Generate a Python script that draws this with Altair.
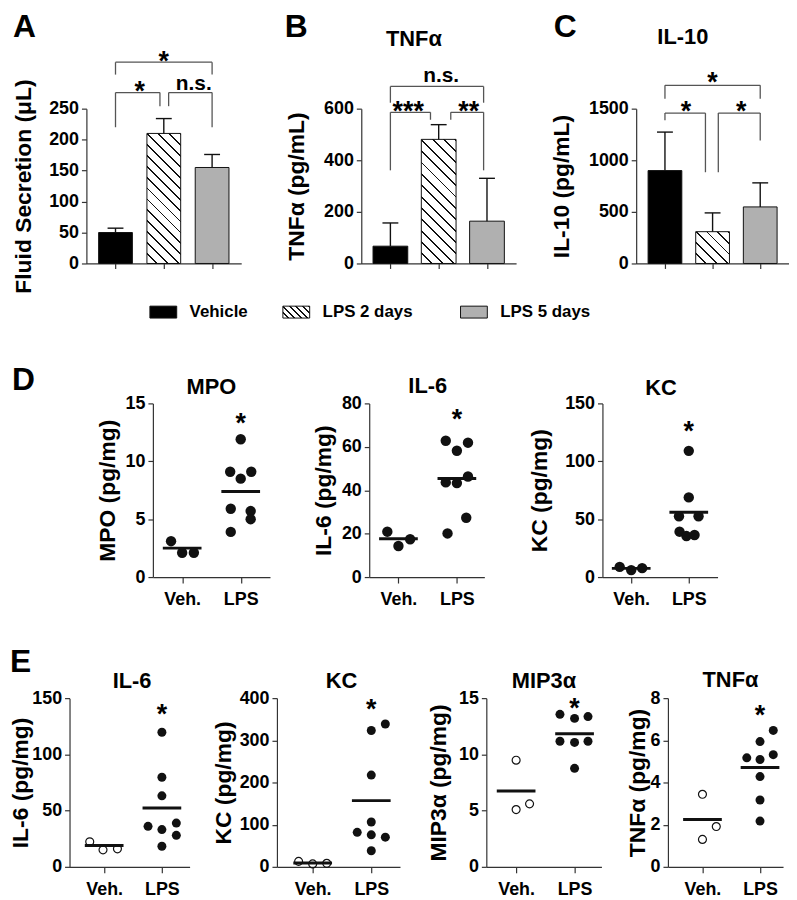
import math
import altair as alt
import pandas as pd

FONT = "Liberation Sans"
INK = "#111111"
GRAY = "#b0b0b0"
BRK = "#555555"
AXC = "#333333"

# ---------------- panels A-C: bar data ----------------
groups = ["Vehicle", "LPS 2 days", "LPS 5 days"]

fluid_mean = [50, 210, 155]
fluid_err = [7, 24, 21]
fluid_ticks = [0, 50, 100, 150, 200, 250]
fluid_br_x1 = [0.0, 0.0, 1.1]
fluid_br_x2 = [2.0, 0.92, 2.0]
fluid_br_y = [325, 276, 276]
fluid_br_yl = [305, 220, 254]
fluid_br_yr = [305, 254, 220]
fluid_note = ["*", "*", "n.s."]
fluid_note_x = [1.0, 0.5, 1.62]
fluid_note_y = [313, 264, 280]

tnfa_mean = [67, 481, 164]
tnfa_err = [90, 57, 166]
tnfa_ticks = [0, 200, 400, 600]
tnfa_br_x1 = [0.0, 0.0, 1.25]
tnfa_br_x2 = [1.93, 0.83, 1.93]
tnfa_br_y = [686, 586, 586]
tnfa_br_yl = [623, 361, 557]
tnfa_br_yr = [623, 557, 361]
tnfa_note = ["n.s.", "***", "**"]
tnfa_note_x = [1.05, 0.37, 1.62]
tnfa_note_y = [703, 557, 557]

il10_mean = [900, 308, 548]
il10_err = [373, 182, 233]
il10_ticks = [0, 500, 1000, 1500]
il10_br_x1 = [0.0, 0.0, 1.12]
il10_br_x2 = [2.0, 0.85, 2.0]
il10_br_y = [1726, 1457, 1457]
il10_br_yl = [1597, 1387, 884]
il10_br_yr = [1597, 884, 1192]
il10_note = ["*", "*", "*"]
il10_note_x = [1.0, 0.44, 1.6]
il10_note_y = [1671, 1393, 1393]

# ---------------- panels D-E: dot data ----------------
dot_groups = ["Veh.", "LPS"]

mpo_veh = [3.1, 2.1, 2.1]
mpo_veh_off = [-0.19, 0.0, 0.2]
mpo_lps = [11.9, 9.1, 8.5, 9.1, 5.9, 5.7, 5.0, 3.9]
mpo_lps_off = [0.0, -0.18, 0.0, 0.18, -0.17, 0.17, 0.17, -0.17]
mpo_mean = [2.5, 7.4]
mpo_star = 12.5

il6d_veh = [20.9, 14.3, 17.4]
il6d_veh_off = [-0.19, 0.0, 0.2]
il6d_lps = [62.8, 58.2, 61.9, 43.6, 43.3, 46.3, 27.3, 20.1]
il6d_lps_off = [-0.19, 0.0, 0.19, -0.19, 0.0, 0.19, 0.16, -0.16]
il6d_mean = [17.7, 45.4]
il6d_star = 68.6

kcd_veh = [8.8, 6.0, 7.7]
kcd_veh_off = [-0.2, 0.0, 0.19]
kcd_lps = [109, 68.8, 52.5, 52.5, 39.2, 35.4, 36.3]
kcd_lps_off = [0.0, 0.0, -0.17, 0.17, -0.16, -0.04, 0.1]
kcd_mean = [7.5, 56]
kcd_star = 118

il6e_veh = [22.3, 15.1, 16.0]
il6e_veh_off = [-0.25, -0.02, 0.23]
il6e_lps = [119.7, 79.7, 63.1, 36.0, 33.1, 38.9, 28.0, 18.3]
il6e_lps_off = [0.0, 0.0, 0.0, -0.24, 0.0, 0.25, 0.25, 0.0]
il6e_mean = [18.9, 52.3]
il6e_star = 127.7

kce_veh = [12.9, 6.9, 8.3]
kce_veh_off = [-0.24, 0.0, 0.24]
kce_lps = [323.2, 338.6, 217.5, 106.4, 81.8, 75.9, 70.3, 38.2]
kce_lps_off = [0.0, 0.24, 0.0, 0.0, -0.24, 0.0, 0.24, 0.0]
kce_mean = [9.2, 157]
kce_star = 354

mip_veh = [9.48, 5.09, 5.6]
mip_veh_off = [0.0, 0.0, 0.23]
mip_lps = [13.56, 13.2, 13.36, 11.17, 11.06, 11.17, 8.76]
mip_lps_off = [-0.25, 0.0, 0.23, -0.25, 0.0, 0.23, 0.0]
mip_mean = [6.75, 11.84]
mip_star = 13.3

tnfe_veh = [3.44, 1.30, 1.91]
tnfe_veh_off = [0.0, 0.0, 0.24]
tnfe_lps = [6.47, 5.94, 5.17, 5.09, 5.32, 4.28, 3.17, 2.17]
tnfe_lps_off = [0.23, 0.0, -0.23, 0.0, 0.23, 0.0, 0.0, 0.0]
tnfe_mean = [2.25, 4.71]
tnfe_star = 6.78

LETTER = 32
NAME = 22


# ---------------- helpers ----------------
def hatch(w, h, period, frac):
    """diagonal hatch as a hard-stop linear gradient (bbox units)"""
    a = (w + h) / (w * w + h * h)
    n = max(1, round((w + h) / math.sqrt(2) / period))
    stops = []
    for k in range(n):
        s = k / n
        e = (k + 1) / n
        m = e - frac / n
        stops += [
            alt.GradientStop(color="white", offset=round(s, 5)),
            alt.GradientStop(color="white", offset=round(m, 5)),
            alt.GradientStop(color=INK, offset=round(m, 5)),
            alt.GradientStop(color=INK, offset=round(e, 5)),
        ]
    return alt.LinearGradient(gradient="linear", stops=stops, x1=0, y1=1,
                              x2=round(a * w, 5), y2=round(1 - a * h, 5))


def text_at(txt, x, y, size, baseline="top", align="left"):
    return alt.Chart(pd.DataFrame({"t": [txt]})).mark_text(
        font=FONT, fontWeight="bold", fontSize=size, baseline=baseline,
        align=align, color="black"
    ).encode(text="t:N", x=alt.value(x), y=alt.value(y))


def ext_rule(ext):
    return alt.Chart(pd.DataFrame({"k": [0]})).mark_rule(strokeOpacity=0).encode(
        x=alt.value(-ext), y=alt.value(0), y2=alt.value(1))


def spacer(width, top, extra=None):
    r = alt.Chart(pd.DataFrame({"k": [0]})).mark_rule(strokeOpacity=0).encode(
        x=alt.value(0), y=alt.value(-top), y2=alt.value(-top + 1))
    return alt.layer(r, *(extra or [])).properties(width=width, height=1)


def bar_panel(means, errs, ticks, ytitle, title_x, bx1, bx2, by, byl, byr,
              notes, nx, ny, width, height, ext, letter, letter_x,
              name=None, name_x=0, name_y=0, bar_w=34):
    n = len(means)
    pos = list(range(n))
    ymax = ticks[-1]
    df = pd.DataFrame({"pos": pos, "grp": groups, "mean": means,
                       "top": [m + e for m, e in zip(means, errs)]})
    xs = alt.Scale(domain=[-0.5, n - 0.5], nice=False, zero=False)
    ys = alt.Scale(domain=[0, ymax], nice=False)
    xax = alt.Axis(values=pos, labels=False, title=None, tickSize=5, grid=False)
    yax = alt.Axis(values=ticks, format="d", title=ytitle, titleX=title_x, titleY=height / 2,
                   labelPadding=3, tickSize=5, grid=False)

    def X(f):
        return alt.X(f, scale=xs, axis=xax)

    def Y(f):
        return alt.Y(f, scale=ys, axis=yax, stack=None)

    base = alt.Chart(df)
    solid = base.transform_filter("datum.pos != 1").mark_bar(
        size=bar_w, orient="vertical", stroke=INK, strokeWidth=1
    ).encode(x=X("pos:Q"), y=Y("mean:Q"),
             fill=alt.Fill("grp:N", scale=alt.Scale(domain=groups, range=["black", "white", GRAY]),
                           legend=None))
    hpx = means[1] / ymax * height
    hatched = base.transform_filter("datum.pos == 1").mark_bar(
        size=bar_w, orient="vertical", stroke=INK, strokeWidth=1,
        fill=hatch(bar_w, hpx, 8, 0.17)
    ).encode(x=X("pos:Q"), y=Y("mean:Q"))
    err = base.mark_rule(color=INK, strokeWidth=1.4).encode(
        x=X("pos:Q"), y=Y("mean:Q"), y2="top:Q")
    cap = base.mark_tick(orient="horizontal", size=16, thickness=1.4, color=INK, opacity=1).encode(
        x=X("pos:Q"), y=Y("top:Q"))

    bdf = pd.DataFrame({"x1": bx1, "x2": bx2, "y": by, "yl": byl, "yr": byr})
    bb = alt.Chart(bdf)
    bh = bb.mark_rule(color=BRK, strokeWidth=1.3).encode(x=X("x1:Q"), x2="x2:Q", y=Y("y:Q"))
    bl = bb.mark_rule(color=BRK, strokeWidth=1.3).encode(x=X("x1:Q"), y=Y("yl:Q"), y2="y:Q")
    br = bb.mark_rule(color=BRK, strokeWidth=1.3).encode(x=X("x2:Q"), y=Y("yr:Q"), y2="y:Q")

    ndf = pd.DataFrame({"t": notes, "x": nx, "y": ny})
    stars = alt.Chart(ndf).transform_filter("datum.t != 'n.s.'").mark_text(
        font=FONT, fontWeight="bold", fontSize=27, baseline="alphabetic", align="center", color="black"
    ).encode(x=X("x:Q"), y=Y("y:Q"), text="t:N")
    ns = alt.Chart(ndf).transform_filter("datum.t == 'n.s.'").mark_text(
        font=FONT, fontWeight="bold", fontSize=21, baseline="alphabetic", align="center", color="black"
    ).encode(x=X("x:Q"), y=Y("y:Q"), text="t:N")

    layers = [solid, hatched, err, cap, bh, bl, br, stars, ns,
              text_at(letter, letter_x, -97, LETTER), ext_rule(ext)]
    if name:
        layers.append(text_at(name, name_x, name_y, NAME, baseline="alphabetic", align="center"))
    return alt.layer(*layers).properties(width=width, height=height)


def dot_panel(veh, veh_off, lps, lps_off, means, star_y, ticks, xdom, ytitle, title_x,
              width, height, ext, name, name_x, name_y, open_veh, pt_size, extra=None):
    ymax = ticks[-1]
    pts = pd.DataFrame({"grp": [1] * len(veh) + [2] * len(lps),
                        "off": veh_off + lps_off, "v": veh + lps})
    mdf = pd.DataFrame({"grp": [1, 2], "m": means})
    sdf = pd.DataFrame({"grp": [2], "v": [star_y], "t": ["*"]})
    xs = alt.Scale(domain=xdom, nice=False, zero=False)
    ys = alt.Scale(domain=[0, ymax], nice=False)
    xax = alt.Axis(values=[1, 2],
                   labelExpr=f"datum.value == 1 ? '{dot_groups[0]}' : '{dot_groups[1]}'",
                   title=None, labelPadding=8, tickSize=6, grid=False, labelAngle=0)
    yax = alt.Axis(values=ticks, format="d", title=ytitle, titleX=title_x, titleY=height / 2,
                   labelPadding=3, tickSize=5, grid=False)

    def X(f):
        return alt.X(f, scale=xs, axis=xax)

    def Y(f):
        return alt.Y(f, scale=ys, axis=yax)

    mean = alt.Chart(mdf).mark_tick(orient="horizontal", size=39, thickness=3,
                                    color=INK, opacity=1).encode(x=X("grp:Q"), y=Y("m:Q"))
    pbase = alt.Chart(pts).transform_calculate(xp="datum.grp + datum.off")
    if open_veh:
        vmark = pbase.transform_filter("datum.grp == 1").mark_point(
            shape="circle", filled=False, size=64, color=INK, strokeWidth=1.2, opacity=1)
    else:
        vmark = pbase.transform_filter("datum.grp == 1").mark_point(
            shape="circle", filled=True, size=pt_size, color=INK, opacity=1)
    vlay = vmark.encode(x=X("xp:Q"), y=Y("v:Q"))
    llay = pbase.transform_filter("datum.grp == 2").mark_point(
        shape="circle", filled=True, size=pt_size, color=INK, opacity=1
    ).encode(x=X("xp:Q"), y=Y("v:Q"))
    star = alt.Chart(sdf).mark_text(font=FONT, fontWeight="bold", fontSize=27,
                                    baseline="alphabetic", align="center", color="black").encode(
        x=X("grp:Q"), y=Y("v:Q"), text="t:N")
    layers = [mean, vlay, llay, star,
              text_at(name, name_x, name_y, NAME, baseline="alphabetic", align="center"),
              ext_rule(ext)] + (extra or [])
    return alt.layer(*layers).properties(width=width, height=height)


def legend_item(label, fill, ext):
    d = pd.DataFrame({"t": [label]})
    sw = alt.Chart(d).mark_rect(fill=fill, stroke=INK, strokeWidth=1).encode(
        x=alt.value(0), x2=alt.value("width"), y=alt.value(0), y2=alt.value("height"))
    tx = alt.Chart(d).mark_text(font=FONT, fontWeight="bold", fontSize=17, align="left",
                                baseline="middle", color="black").encode(
        text="t:N", x=alt.value(40), y=alt.value(6))
    layers = [sw, tx]
    if ext:
        layers.append(ext_rule(ext))
    return alt.layer(*layers).properties(width=27, height=12)


# ---------------- row 1: A, B, C ----------------
pA = bar_panel(fluid_mean, fluid_err, fluid_ticks, "Fluid Secretion (μL)", -51,
               fluid_br_x1, fluid_br_x2, fluid_br_y, fluid_br_yl, fluid_br_yr,
               fluid_note, fluid_note_x, fluid_note_y, 156, 156, 74, "A", -74)
pB = bar_panel(tnfa_mean, tnfa_err, tnfa_ticks, "TNFα (pg/mL)", -53,
               tnfa_br_x1, tnfa_br_x2, tnfa_br_y, tnfa_br_yl, tnfa_br_yr,
               tnfa_note, tnfa_note_x, tnfa_note_y, 156, 156, 121, "B", -77,
               name="TNFα", name_x=53, name_y=-63, bar_w=35)
pC = bar_panel(il10_mean, il10_err, il10_ticks, "IL-10 (pg/mL)", -63,
               il10_br_x1, il10_br_x2, il10_br_y, il10_br_yl, il10_br_yr,
               il10_note, il10_note_x, il10_note_y, 154, 156, 121, "C", -83,
               name="IL-10", name_x=47, name_y=-65)
row1 = alt.hconcat(spacer(5, 97), pA, pB, pC, spacing=0)

# ---------------- legend row ----------------
legend_row = alt.hconcat(
    spacer(142, 13),
    legend_item(groups[0], "black", 0),
    legend_item(groups[1], hatch(27, 12, 4.5, 0.28), 35),
    legend_item(groups[2], GRAY, 48),
    spacing=0)

# ---------------- row 2: D ----------------
mpo = dot_panel(mpo_veh, mpo_veh_off, mpo_lps, mpo_lps_off, mpo_mean, mpo_star,
                [0, 5, 10, 15], [0.5, 2.5], "MPO (pg/mg)", -34, 118, 175, 57,
                "MPO", 59, -9, False, 110)
il6d = dot_panel(il6d_veh, il6d_veh_off, il6d_lps, il6d_lps_off, il6d_mean, il6d_star,
                 [0, 20, 40, 60, 80], [0.5, 2.47], "IL-6 (pg/mg)", -34, 116, 175, 100,
                 "IL-6", 59, -10, False, 110)
kcd = dot_panel(kcd_veh, kcd_veh_off, kcd_lps, kcd_lps_off, kcd_mean, kcd_star,
                [0, 50, 100, 150], [0.5, 2.5], "KC (pg/mg)", -51, 116, 175, 119,
                "KC", 59, -8, False, 110)
row2 = alt.hconcat(spacer(89, 84, [text_at("D", 4, -39, LETTER)]), mpo, il6d, kcd, spacing=0)

# ---------------- row 3: E ----------------
il6e = dot_panel(il6e_veh, il6e_veh_off, il6e_lps, il6e_lps_off, il6e_mean, il6e_star,
                 [0, 50, 100, 150], [0.4, 2.48], "IL-6 (pg/mg)", -37, 121, 170, 60,
                 "IL-6", 63, -10, True, 82, extra=[text_at("E", -60, -51, LETTER)])
kce = dot_panel(kce_veh, kce_veh_off, kce_lps, kce_lps_off, kce_mean, kce_star,
                [0, 100, 200, 300, 400], [0.39, 2.49], "KC (pg/mg)", -42, 124, 170, 88,
                "KC", 65, -10, True, 82)
mip = dot_panel(mip_veh, mip_veh_off, mip_lps, mip_lps_off, mip_mean, mip_star,
                [0, 5, 10, 15], [0.49, 2.46], "MIP3α (pg/mg)", -36, 116, 170, 87,
                "MIP3α", 58, -10, True, 82)
tnfe = dot_panel(tnfe_veh, tnfe_veh_off, tnfe_lps, tnfe_lps_off, tnfe_mean, tnfe_star,
                 [0, 2, 4, 6, 8], [0.4, 2.4], "TNFα (pg/mg)", -19, 116, 170, 67,
                 "TNFα", 63, -11, True, 82)
row3 = alt.hconcat(spacer(1, 90), il6e, kce, mip, tnfe, spacing=0)

chart = alt.vconcat(row1, legend_row, row2, row3, spacing=0).properties(
    padding=0
).configure_view(stroke=None).configure_axis(
    labelFont=FONT, titleFont=FONT, labelFontSize=18, titleFontSize=23,
    labelFontWeight="bold", titleFontWeight="bold", labelColor="black", titleColor="black",
    domainColor=AXC, tickColor=AXC, domainWidth=1.2, tickWidth=1.2, grid=False
)

chart.save("out.html", embed_options={"renderer": "svg", "actions": False})
